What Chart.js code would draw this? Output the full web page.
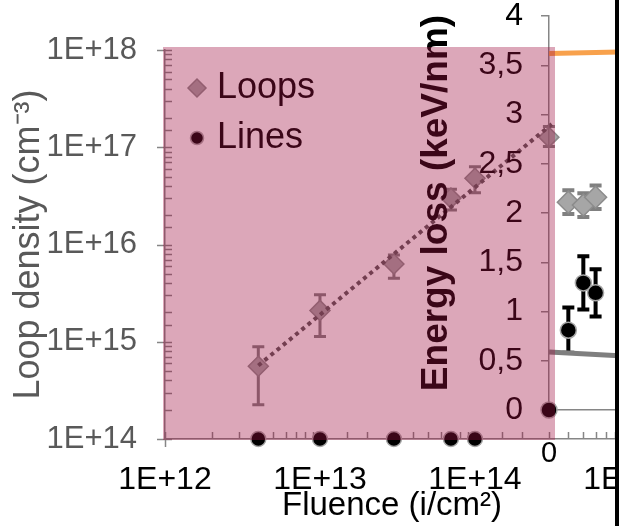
<!DOCTYPE html>
<html>
<head>
<meta charset="utf-8">
<script src="https://cdn.jsdelivr.net/npm/chart.js@4.4.1/dist/chart.umd.min.js"></script>
<style>
  html, body { margin: 0; padding: 0; background: #fff; overflow: hidden; }
  #wrap { position: relative; width: 619px; height: 526px; overflow: hidden; }
  #wrap canvas { position: absolute; left: 0; top: 0; }
  #shade { position: absolute; left: 163px; top: 47px; width: 392px; height: 393px; background: rgba(160, 15, 65, 0.37); }
  #edge { position: absolute; left: 615px; top: 0; width: 4px; height: 526px; background: #000; }
</style>
</head>
<body>
<div id="wrap">
  <canvas id="densityChart" width="619" height="526"></canvas>
  <canvas id="energyChart" width="619" height="526"></canvas>
  <div id="shade"></div>
  <div id="edge"></div>
</div>
<script>
// Loop density vs fluence (log-log)
const fluence = [4e12, 1e13, 3e13, 7e13, 1e14, 3e14];
const loopDensity = [5.6e14, 2.1e15, 6.3e15, 3.0e16, 4.8e16, 1.27e17];
const loopLow = [2.25e14, 1.13e15, 4.5e15, 2.27e16, 3.4e16, 1.02e17];
const loopHigh = [8.9e14, 3.04e15, 7.8e15, 3.7e16, 6.3e16, 1.63e17];
const lineFluence = [4e12, 1e13, 3e13, 7e13, 1e14];
const lineDensity = [1e14, 1e14, 1e14, 1e14, 1e14];
const fitFluence = [4e12, 3.2e14];
const fitDensity = [5.7e14, 1.78e17];

// Energy loss chart (second chart laid over the first)
const energyFluence = [4e14, 5e14, 6e14];
const loopEnergy = [2.11, 2.08, 2.16];
const loopEnergyErr = [0.12, 0.12, 0.12];
const lineEnergyFluence = [3e14, 4e14, 5e14, 6e14];
const lineEnergy = [0, 0.81, 1.29, 1.19];
const lineEnergyErr = [0, 0.23, 0.27, 0.24];
const curveFluence = [3e14, 8.5e14];
const electronicLoss = [3.62, 3.635];
const nuclearLoss = [0.59, 0.55];

Chart.defaults.font.family = "'Liberation Sans', Arial, sans-serif";
const AXIS_GRAY = '#868686';

function toPoints(xs, ys) {
    return xs.map((x, i) => ({ x: x, y: ys[i] }));
}

function isDecade(v) {
    const e = Math.log10(v);
    return Math.abs(e - Math.round(e)) < 1e-6;
}

function sciLabel(v) {
    return isDecade(v) ? '1E+' + Math.round(Math.log10(v)) : '';
}

// scale box gets a fixed size, no extra label padding
function fixSize(width, height) {
    return s => {
        if (width) s.width = width;
        if (height) s.height = height;
        s.paddingLeft = s.paddingRight = s.paddingTop = s.paddingBottom = 0;
    };
}

// error bars with caps, drawn under the markers
const errorBarPlugin = {
    id: 'errorBars',
    beforeDatasetsDraw(chart) {
        const ctx = chart.ctx;
        const xs = chart.scales.x, ys = chart.scales.y;
        chart.data.datasets.forEach(ds => {
            if (!ds.errLow) return;
            ctx.save();
            ctx.strokeStyle = ds.errColor;
            ctx.lineWidth = ds.errWidth;
            ds.data.forEach((p, i) => {
                if (ds.errHigh[i] === ds.errLow[i]) return;
                const px = xs.getPixelForValue(p.x);
                const top = ys.getPixelForValue(ds.errHigh[i]);
                const bot = ys.getPixelForValue(ds.errLow[i]);
                ctx.beginPath();
                ctx.moveTo(px, top); ctx.lineTo(px, bot);
                ctx.moveTo(px - 6, top); ctx.lineTo(px + 6, top);
                ctx.moveTo(px - 6, bot); ctx.lineTo(px + 6, bot);
                ctx.stroke();
            });
            ctx.restore();
        });
    }
};

// log axis tick marks: decades cross the axis, minor ones point inside
const logTickPlugin = {
    id: 'logTicks',
    beforeDatasetsDraw(chart) {
        const ctx = chart.ctx;
        const xs = chart.scales.x, ys = chart.scales.y;
        ctx.save();
        ctx.strokeStyle = AXIS_GRAY;
        ctx.lineWidth = 1.5;
        ctx.beginPath();
        xs.ticks.forEach(t => {
            if (t.value < xs.min || t.value > xs.max) return;
            const px = Math.round(xs.getPixelForValue(t.value)) + 0.5;
            ctx.moveTo(px, xs.top - 7);
            ctx.lineTo(px, isDecade(t.value) ? xs.top + 8 : xs.top);
        });
        ys.ticks.forEach(t => {
            if (t.value < ys.min || t.value > ys.max) return;
            const py = Math.round(ys.getPixelForValue(t.value)) + 0.5;
            ctx.moveTo(isDecade(t.value) ? ys.right - 8 : ys.right, py);
            ctx.lineTo(ys.right + 7, py);
        });
        ctx.stroke();
        ctx.restore();
    }
};

// legend inside the plot, top left
const insideLegendPlugin = {
    id: 'insideLegend',
    afterDatasetsDraw(chart) {
        const ctx = chart.ctx;
        const area = chart.chartArea;
        chart.data.datasets.filter(ds => ds.inLegend).forEach((ds, i) => {
            const y = area.top + 38 + i * 50;
            const x = area.left + 32;
            ctx.save();
            ctx.fillStyle = ds.backgroundColor;
            ctx.strokeStyle = ds.borderColor;
            ctx.lineWidth = ds.borderWidth;
            Chart.helpers.drawPoint(ctx, { pointStyle: ds.pointStyle, radius: ds.pointRadius - 1, rotation: 0, borderWidth: ds.borderWidth }, x, y);
            ctx.fillStyle = '#000';
            ctx.font = "36px 'Liberation Sans', Arial, sans-serif";
            ctx.textBaseline = 'middle';
            ctx.fillText(ds.label, x + 20, y);
            ctx.restore();
        });
    }
};

// rotated y title for the energy chart, sits a bit above the axis middle
const sideTitlePlugin = {
    id: 'sideTitle',
    afterDraw(chart, args, opts) {
        const ys = chart.scales.y;
        const ctx = chart.ctx;
        ctx.save();
        ctx.translate(ys.left + opts.offsetX, (ys.top + ys.bottom) / 2 + opts.shiftY);
        ctx.rotate(-Math.PI / 2);
        ctx.font = "bold 37px 'Liberation Sans', Arial, sans-serif";
        ctx.textAlign = 'center';
        ctx.textBaseline = 'middle';
        ctx.fillStyle = '#000';
        ctx.fillText(opts.text, 0, 0);
        ctx.restore();
    }
};

new Chart(document.getElementById('densityChart'), {
    type: 'scatter',
    data: {
        datasets: [
            {
                label: 'Loops',
                data: toPoints(fluence, loopDensity),
                errLow: loopLow, errHigh: loopHigh, errColor: '#808080', errWidth: 3,
                pointStyle: 'rectRot', pointRadius: 10,
                backgroundColor: '#a6a6a6', borderColor: '#8c8c8c', borderWidth: 1.5,
                inLegend: true, clip: false, order: 2
            },
            {
                label: 'Lines',
                data: toPoints(lineFluence, lineDensity),
                pointStyle: 'circle', pointRadius: 7.5,
                backgroundColor: '#000', borderColor: '#a6a6a6', borderWidth: 1.5,
                inLegend: true, clip: false, order: 1
            },
            {
                label: 'Fit',
                data: toPoints(fitFluence, fitDensity),
                showLine: true, pointRadius: 0,
                borderColor: '#5a5a5a', borderWidth: 4, borderDash: [4, 4],
                order: 0
            }
        ]
    },
    options: {
        responsive: false,
        animation: false,
        layout: { padding: { left: 0, top: 50, right: 0, bottom: 0 }, autoPadding: false },
        plugins: { legend: { display: false }, tooltip: { enabled: false } },
        scales: {
            x: {
                type: 'logarithmic', min: 1e12, max: 8.5e14,
                afterFit: fixSize(0, 87),
                afterBuildTicks: s => { s.ticks.push({ value: 1e15, major: true }); },
                grid: { display: false, drawTicks: false },
                border: { display: true, color: AXIS_GRAY, width: 1.5 },
                ticks: { autoSkip: false, maxRotation: 0, padding: 22, color: '#000', font: { size: 32 }, callback: v => sciLabel(v) },
                title: { display: true, text: 'Fluence (i/cm²)', color: '#000', font: { size: 33 }, padding: { top: 0, bottom: 0 } }
            },
            y: {
                type: 'logarithmic', min: 1e14, max: 1e18,
                afterFit: fixSize(165, 0),
                grid: { display: false, drawTicks: false },
                border: { display: true, color: AXIS_GRAY, width: 1.5 },
                ticks: { autoSkip: false, padding: 28, color: '#595959', font: { size: 31 }, callback: v => sciLabel(v) },
                title: { display: true, text: 'Loop density (cm⁻³)', color: '#595959', font: { size: 36 }, padding: { top: 7, bottom: 0 } }
            }
        }
    },
    plugins: [logTickPlugin, errorBarPlugin, insideLegendPlugin]
});

new Chart(document.getElementById('energyChart'), {
    type: 'scatter',
    data: {
        datasets: [
            {
                label: 'Electronic',
                data: toPoints(curveFluence, electronicLoss),
                showLine: true, pointRadius: 0,
                borderColor: '#f8a14c', borderWidth: 5, order: 3
            },
            {
                label: 'Nuclear',
                data: toPoints(curveFluence, nuclearLoss),
                showLine: true, pointRadius: 0,
                borderColor: '#7f7f7f', borderWidth: 5, order: 3
            },
            {
                label: 'Loops',
                data: toPoints(energyFluence, loopEnergy),
                errLow: loopEnergy.map((v, i) => v - loopEnergyErr[i]),
                errHigh: loopEnergy.map((v, i) => v + loopEnergyErr[i]),
                errColor: '#808080', errWidth: 4,
                pointStyle: 'rectRot', pointRadius: 11,
                backgroundColor: '#a6a6a6', borderColor: '#8c8c8c', borderWidth: 1.5,
                clip: false, order: 1
            },
            {
                label: 'Lines',
                data: toPoints(lineEnergyFluence, lineEnergy),
                errLow: lineEnergy.map((v, i) => v - lineEnergyErr[i]),
                errHigh: lineEnergy.map((v, i) => v + lineEnergyErr[i]),
                errColor: '#000', errWidth: 4,
                pointStyle: 'circle', pointRadius: 8,
                backgroundColor: '#000', borderColor: '#a6a6a6', borderWidth: 1.5,
                clip: false, order: 0
            }
        ]
    },
    options: {
        responsive: false,
        animation: false,
        layout: { padding: { left: 410, top: 16, right: 0, bottom: 0 }, autoPadding: false },
        plugins: {
            legend: { display: false },
            tooltip: { enabled: false },
            sideTitle: { text: 'Energy loss (keV/nm)', offsetX: 27, shiftY: -10 }
        },
        scales: {
            x: {
                type: 'logarithmic', min: 3e14, max: 8.5e14,
                afterFit: fixSize(0, 116),
                grid: { display: false, drawTicks: false },
                border: { display: true, color: AXIS_GRAY, width: 1.5 },
                ticks: { autoSkip: false, maxRotation: 0, padding: 27, color: '#000', font: { size: 29 }, callback: (v, i) => i === 0 ? '0' : '' }
            },
            y: {
                min: 0, max: 4,
                afterFit: fixSize(139, 0),
                grid: { drawOnChartArea: false, drawTicks: true, tickLength: 8, color: AXIS_GRAY, lineWidth: 1.5 },
                border: { display: true, color: AXIS_GRAY, width: 1.5 },
                ticks: { stepSize: 0.5, padding: 18, color: '#000', font: { size: 32 }, callback: v => String(v).replace('.', ',') }
            }
        }
    },
    plugins: [errorBarPlugin, sideTitlePlugin]
});
</script>
</body>
</html>
